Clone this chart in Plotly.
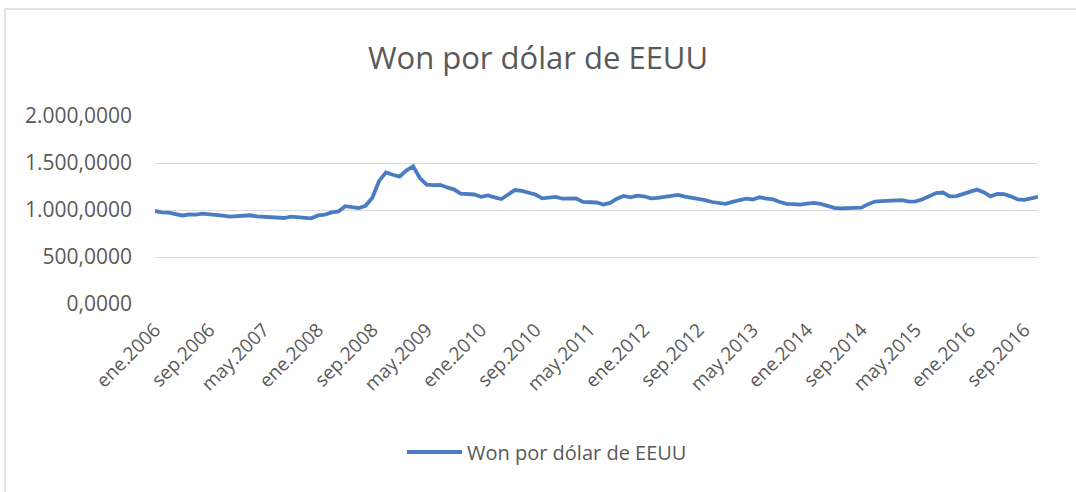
import plotly.graph_objects as go

# --- Data ---
meses = ["ene", "feb", "mar", "abr", "may", "jun", "jul", "ago", "sep", "oct", "nov", "dic"]
anios = list(range(2006, 2017))
categorias = [f"{m}.{a}" for a in anios for m in meses][:131]  # ene.2006 .. nov.2016

won_2006 = [990, 975, 972, 955, 942, 952, 950, 962, 955, 955, 940, 930]
won_2007 = [936, 935, 944, 932, 928, 929, 925, 915, 930, 925, 910, 912]
won_2008 = [942, 950, 975, 985, 1040, 1025, 1020, 1045, 1130, 1310, 1400, 1375]
won_2009 = [1355, 1420, 1465, 1340, 1270, 1265, 1268, 1240, 1220, 1175, 1165, 1165]
won_2010 = [1140, 1155, 1135, 1117, 1165, 1212, 1203, 1185, 1165, 1124, 1135, 1140]
won_2011 = [1120, 1117, 1122, 1086, 1083, 1080, 1058, 1075, 1120, 1150, 1135, 1152]
won_2012 = [1146, 1124, 1130, 1138, 1155, 1160, 1143, 1132, 1125, 1105, 1085, 1070]
won_2013 = [1065, 1086, 1102, 1120, 1112, 1135, 1122, 1112, 1085, 1066, 1062, 1058]
won_2014 = [1068, 1075, 1065, 1040, 1022, 1018, 1018, 1020, 1025, 1062, 1090, 1095]
won_2015 = [1095, 1098, 1105, 1090, 1092, 1115, 1145, 1180, 1186, 1145, 1148, 1170]
won_2016 = [1200, 1217, 1190, 1145, 1170, 1168, 1145, 1112, 1108, 1125, 1140]

valores = (won_2006 + won_2007 + won_2008 + won_2009 + won_2010 + won_2011 +
           won_2012 + won_2013 + won_2014 + won_2015 + won_2016)

etiquetas_x = categorias[::8]
ticks_y = [0, 500, 1000, 1500, 2000]

serie = "Won por dólar de EEUU"
titulo = "Won por dólar de EEUU"

# --- Styling ---
FONT = "Open Sans, Calibri, sans-serif"
TXT = "#595959"
GRID = "#d9d9d9"
LINE = "#4A7CC2"

W, H = 1076, 492
L, R, T, B = 155, 38, 116, 188
pw, ph = W - L - R, H - T - B

def px_x(px):
    return (px - L) / pw

def px_y(py):
    return (H - B - py) / ph

fig = go.Figure()
fig.add_trace(go.Scatter(
    x=categorias, y=valores, mode="lines", name=serie,
    line=dict(color=LINE, width=3.8),
))

fig.update_layout(
    width=W, height=H,
    margin=dict(l=L, r=R, t=T, b=B),
    paper_bgcolor="white", plot_bgcolor="white",
    separators=",.",
    font=dict(family=FONT, color=TXT),
    title=dict(text=titulo, x=0.5, xanchor="center", y=1 - 58 / H, yanchor="middle",
               font=dict(family=FONT, size=31, color=TXT)),
    showlegend=True,
    legend=dict(orientation="h", x=px_x(547), xanchor="center", y=px_y(452), yanchor="middle",
                font=dict(family=FONT, size=20, color=TXT), itemwidth=55),
    xaxis=dict(
        type="category", categoryorder="array", categoryarray=categorias,
        range=[0, len(categorias) - 1],
        tickmode="array", tickvals=etiquetas_x, ticktext=etiquetas_x,
        tickangle=-45, tickfont=dict(family=FONT, size=19, color=TXT),
        showgrid=False, zeroline=False, showline=False, ticks="",
        ticklabelstandoff=10,
    ),
    yaxis=dict(
        range=[0, 2000], tickmode="array", tickvals=ticks_y,
        tickformat=",.4f", tickfont=dict(family=FONT, size=21, color=TXT),
        showgrid=True, gridcolor=GRID, gridwidth=1,
        zeroline=False, showline=False, ticks="", ticklabelstandoff=22,
    ),
    shapes=[
        dict(type="line", xref="paper", yref="paper",
             x0=px_x(5), x1=px_x(W), y0=px_y(9), y1=px_y(9),
             line=dict(color=GRID, width=1.5)),
        dict(type="line", xref="paper", yref="paper",
             x0=px_x(5), x1=px_x(5), y0=px_y(9), y1=px_y(H),
             line=dict(color=GRID, width=1.5)),
    ],
)

fig.write_html(
    "out.html",
    config={"displayModeBar": False},
    post_script="document.body.style.margin='0';document.body.style.overflow='hidden';",
)
